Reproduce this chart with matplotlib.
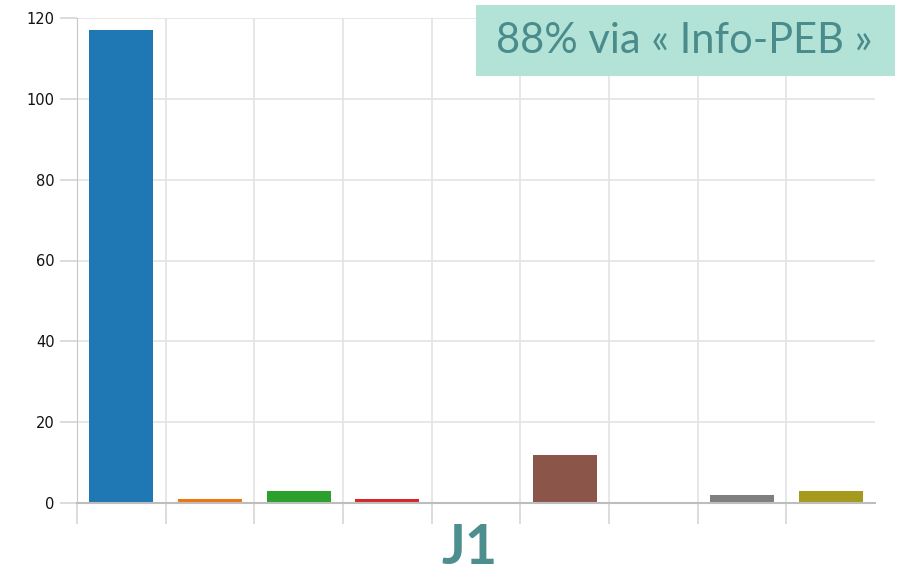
import numpy as np
import matplotlib
matplotlib.use("Agg")
import matplotlib.pyplot as plt
from matplotlib.patches import Rectangle

# counts per answer, J1
categories = list(range(9))
values = [117, 1, 3, 1, 0, 12, 0, 2, 3]
bar_colors = ["#1f77b4", "#ef7510", "#2ca02c", "#d62728", "#9467bd",
              "#8b5649", "#e377c2", "#7f7f7f", "#a69a1e"]
y_ticks = [0, 20, 40, 60, 80, 100, 120]
title = "J1"
badge = "88% via « Info-PEB »"

fig = plt.figure(figsize=(8.99, 5.73), dpi=100)
ax = fig.add_axes([77 / 899, 70 / 573, 798 / 899, 485 / 573])

ax.bar(categories, values, width=0.72, color=bar_colors, zorder=3)

ax.set_xlim(-0.5, 8.5)
ax.set_ylim(0, 120)
ax.set_yticks(y_ticks)
ax.set_xticks([])
ax.set_xticks(np.arange(-0.5, 8, 1.0), minor=True)
ax.tick_params(axis="x", which="minor", length=15, color="#d6d6d6", width=1.2)
ax.tick_params(axis="y", length=12, color="#d6d6d6", width=1.2,
               labelsize=10.5, labelcolor="#111111", pad=4)
ax.grid(axis="y", color="#e3e3e3", lw=1.2, zorder=0)
ax.grid(axis="x", which="minor", color="#e3e3e3", lw=1.2, zorder=0)

for s in ["top", "right"]:
    ax.spines[s].set_visible(False)
ax.spines["left"].set_color("#c8c8c8")
ax.spines["bottom"].set_color("#bdbdbd")
ax.spines["bottom"].set_linewidth(1.5)
ax.spines["bottom"].set_zorder(4)

fig.text(470 / 899, 1 - 548 / 573, title, ha="center", va="center",
         fontsize=40, fontweight="bold", color="#4d8e8f", family="Lato")

fig.patches.append(Rectangle((476 / 899, 1 - 76 / 573), 419 / 899, 71 / 573,
                             transform=fig.transFigure, facecolor="#b3e3d6",
                             edgecolor="none", zorder=5))
fig.text(684 / 899, 1 - 41 / 573, badge, ha="center", va="center",
         fontsize=30, color="#4a8b8c", family="Lato", zorder=6)

fig.savefig("out.png", dpi=100)
